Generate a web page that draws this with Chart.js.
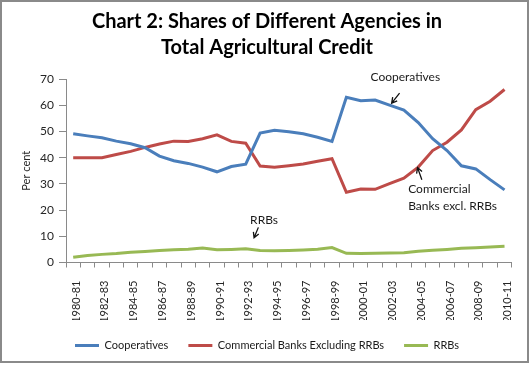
<!DOCTYPE html>
<html><head><meta charset="utf-8">
<script src="https://cdn.jsdelivr.net/npm/chart.js@4"></script>
<style>html,body{margin:0;padding:0;background:#fff}#wrap{position:relative;width:531px;height:367px}</style>
</head><body><div id="wrap"><canvas id="c" width="531" height="367"></canvas></div>
<script>
const years = ['1980-81','1981-82','1982-83','1983-84','1984-85','1985-86','1986-87','1987-88','1988-89','1989-90',
  '1990-91','1991-92','1992-93','1993-94','1994-95','1995-96','1996-97','1997-98','1998-99','1999-00',
  '2000-01','2001-02','2002-03','2003-04','2004-05','2005-06','2006-07','2007-08','2008-09','2009-10','2010-11'];
const cooperatives = [49.1,48.3,47.6,46.3,45.3,43.8,40.6,38.8,37.8,36.4,34.6,36.6,37.5,49.4,50.4,49.9,49.1,47.8,46.2,63.0,
  61.7,62.0,60.0,58.1,53.4,47.2,42.7,36.9,35.7,31.6,27.7];
const commercialBanks = [40.0,40.0,40.0,41.2,42.4,43.9,45.2,46.3,46.2,47.2,48.7,46.2,45.5,36.8,36.3,36.9,37.6,38.6,39.6,26.8,
  28.0,27.9,30.1,32.2,36.4,42.7,45.9,50.6,58.3,61.5,66.0];
const rrbs = [2.0,2.7,3.1,3.4,3.9,4.2,4.6,4.9,5.1,5.5,4.9,5.0,5.2,4.6,4.5,4.6,4.8,5.1,5.7,3.5,
  3.4,3.5,3.6,3.7,4.3,4.7,5.0,5.4,5.6,5.9,6.2];
const yTicks = [0,10,20,30,40,50,60,70];
const seriesNames = ['Cooperatives','Commercial Banks Excluding RRBs','RRBs'];
const titleLines = ['Chart 2: Shares of Different Agencies in','Total Agricultural Credit'];
const yTitle = 'Per cent';

// annotations: text anchored on data coordinates (category index, value)
const notes = [
  {lines:['Cooperatives'], x:23.1, y:70.6, align:'center', tail:[22.7,64.6], head:[22.15,60.8]},
  {lines:['Commercial','Banks excl. RRBs'], x:23.3, y:27.9, align:'left', lineGap:6.3, tail:[24.25,31.6], head:[23.95,36.2]},
  {lines:['RRBs'], x:13.27, y:16.1, align:'center', tail:[12.88,13.4], head:[12.58,9.4]}
];

const FONT = 'Lato, "Open Sans", sans-serif';

const extras = {
  id:'extras',
  afterDatasetsDraw(chart){
    const ctx = chart.ctx, xs = chart.scales.x, ys = chart.scales.y;
    ctx.save();
    ctx.fillStyle = '#1a1a1a';
    ctx.strokeStyle = '#111';
    ctx.font = '12px ' + FONT;
    ctx.textBaseline = 'middle';
    notes.forEach(n=>{
      ctx.textAlign = n.align;
      const px = xs.getPixelForValue(n.x);
      n.lines.forEach((t,i)=>{
        const py = ys.getPixelForValue(n.y - i*(n.lineGap||0));
        ctx.fillText(t, px, py);
      });
      const tx = xs.getPixelForValue(n.tail[0]), ty = ys.getPixelForValue(n.tail[1]);
      const hx = xs.getPixelForValue(n.head[0]), hy = ys.getPixelForValue(n.head[1]);
      ctx.lineWidth = 1.3;
      ctx.beginPath(); ctx.moveTo(tx,ty); ctx.lineTo(hx,hy);
      const a = Math.atan2(hy-ty, hx-tx), L = 6;
      ctx.moveTo(hx - L*Math.cos(a-0.5), hy - L*Math.sin(a-0.5));
      ctx.lineTo(hx,hy);
      ctx.lineTo(hx - L*Math.cos(a+0.5), hy - L*Math.sin(a+0.5));
      ctx.stroke();
    });
    ctx.restore();
  },
  afterDraw(chart){
    const ctx = chart.ctx;
    ctx.save();
    ctx.strokeStyle = '#8a8a8a';
    ctx.lineWidth = 2;
    ctx.strokeRect(1,1,527,361);
    ctx.restore();
  }
};

const colors = ['#4A7EBB','#BE4B48','#98B954'];
const dataArrays = [cooperatives, commercialBanks, rrbs];

new Chart(document.getElementById('c'), {
  type:'line',
  data:{
    labels: years,
    datasets: dataArrays.map((d,i)=>({
      label: seriesNames[i], data: d, borderColor: colors[i], backgroundColor: colors[i],
      borderWidth: 3, pointRadius: 0, tension: 0, fill:false
    }))
  },
  options:{
    responsive:false, animation:false, devicePixelRatio:1,
    layout:{padding:{left:20, right:17, top:0, bottom:6}},
    plugins:{
      title:{display:true, text:titleLines, color:'#000',
        font:{family:FONT, size:20, weight:'bold', lineHeight:1.3}, padding:{top:9,bottom:18}},
      legend:{position:'bottom', labels:{usePointStyle:true, pointStyle:'line', pointStyleWidth:24,
        boxHeight:3, padding:20, color:'#1a1a1a', font:{family:FONT, size:11}}},
      tooltip:{enabled:false}
    },
    scales:{
      x:{
        offset:true,
        grid:{display:true, drawOnChartArea:false, drawTicks:true, tickLength:5, color:'#8a8a8a', offset:true},
        border:{display:true, color:'#8a8a8a', width:1},
        ticks:{autoSkip:false, maxRotation:90, minRotation:90, padding:13, labelOffset:3, color:'#262626',
          font:{family:FONT, size:11},
          callback:function(v,i){ return i%2===0 ? this.getLabelForValue(v) : ''; }},
        afterFit:(s)=>{ s.height = 57.5; }
      },
      y:{
        min:0, max:70,
        afterBuildTicks:(s)=>{ s.ticks = yTicks.map(v=>({value:v})); },
        grid:{display:true, drawOnChartArea:false, drawTicks:true, tickLength:7, color:'#8a8a8a'},
        border:{display:true, color:'#8a8a8a', width:1},
        ticks:{padding:5, color:'#262626', font:{family:FONT, size:12}},
        title:{display:true, text:yTitle, color:'#262626', font:{family:FONT, size:11}, padding:{top:0,bottom:0}},
        afterFit:(s)=>{ s.width = 46; }
      }
    }
  },
  plugins:[extras]
});
</script></body></html>
